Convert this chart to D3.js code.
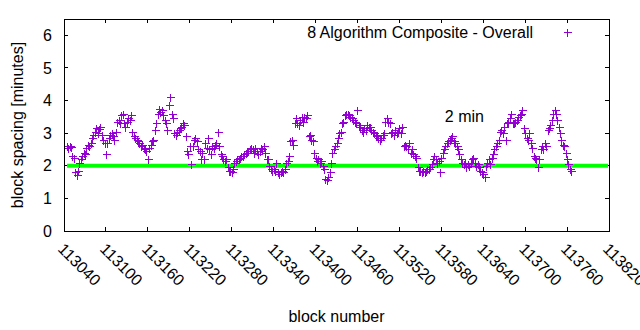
<!DOCTYPE html>
<html>
<head>
<meta charset="utf-8">
<script src="https://cdn.jsdelivr.net/npm/d3@7"></script>
<style>
  body { margin: 0; background: #fff; }
  svg { display: block; }
  text { font-family: "Liberation Sans", Arial, sans-serif; fill: #000; }
</style>
</head>
<body>
<svg id="chart" width="640" height="330"></svg>
<script>
// ---- data ----
const seriesName = "8 Algorithm Composite - Overall";
const refLabel = "2 min";
const refValue = 2;
const firstBlock = 113044;
const blockStep = 2;
const spacing = [
  2.6,2.55,2.62,2.58,2.3,2.25,1.8,1.72,1.85,2.1,
  2.2,2.3,2.4,2.35,2.55,2.65,2.6,2.7,2.85,2.95,
  3.05,3.15,3.0,3.12,3.2,2.95,2.8,2.7,2.35,2.7,
  2.85,2.95,3.0,2.9,2.8,3.05,3.35,3.4,3.3,3.55,
  3.6,3.3,3.2,3.35,3.45,3.4,3.55,3.05,2.9,2.85,
  2.8,2.75,2.7,2.6,2.65,2.55,2.5,2.45,2.2,2.55,
  2.65,2.75,2.8,3.1,3.3,3.6,3.75,3.65,3.7,3.55,
  3.4,3.3,3.1,3.85,4.1,3.6,3.45,3.0,2.95,3.05,
  3.1,3.15,3.2,3.3,3.25,2.9,2.45,2.35,2.6,2.05,
  2.6,2.8,2.85,2.75,2.5,2.45,2.2,2.4,2.2,2.7,
  2.55,2.85,2.5,2.35,2.6,2.55,2.65,2.7,3.05,2.6,
  2.35,2.3,2.2,2.15,2.2,1.95,1.85,1.85,1.8,1.9,
  2.1,2.15,2.2,2.2,2.25,2.3,2.3,2.35,2.4,2.45,
  2.45,2.5,2.55,2.5,2.4,2.55,2.45,2.35,2.45,2.55,
  2.5,2.6,2.4,2.2,2.2,2.0,1.9,1.85,1.9,1.85,
  2.1,1.8,1.75,1.8,1.85,1.8,1.9,2.1,2.15,2.3,
  2.75,2.8,2.65,3.3,3.45,3.3,3.25,3.4,3.5,3.35,
  3.5,3.45,3.55,2.9,2.95,2.8,2.75,2.4,2.25,2.15,
  2.2,2.1,2.15,2.0,1.9,1.6,1.55,1.65,1.8,2.1,
  2.4,2.5,2.6,2.7,2.85,3.0,3.05,3.3,3.35,3.55,
  3.6,3.6,3.55,3.5,3.45,3.4,3.35,3.3,3.7,3.25,
  3.2,3.1,3.05,3.15,3.1,3.25,3.2,3.2,3.1,3.05,
  3.0,2.9,2.95,2.85,2.8,2.85,2.95,3.0,3.35,3.45,
  3.35,3.3,3.0,3.05,2.95,3.1,3.0,3.05,3.15,3.0,
  3.2,2.6,2.65,2.6,2.5,2.7,2.4,2.5,2.35,2.3,
  2.25,1.95,1.85,1.85,1.8,1.85,1.8,1.85,1.9,1.9,
  1.95,2.05,2.2,2.3,2.2,2.1,2.15,1.8,2.25,2.4,
  2.5,2.6,2.7,2.75,2.8,2.85,2.9,2.75,2.7,2.6,
  2.5,2.35,2.2,2.1,2.05,2.1,1.95,2.05,2.0,2.1,
  2.2,2.25,2.1,2.0,2.05,1.95,1.85,1.8,1.75,1.65,
  2.0,2.1,2.2,2.05,2.25,2.35,2.5,2.6,2.7,2.8,
  3.05,3.1,3.0,3.2,2.8,3.3,3.35,3.45,3.6,3.3,
  3.3,3.35,3.4,3.5,3.55,3.6,3.7,3.15,3.0,2.85,
  2.8,3.0,2.7,2.55,2.3,2.25,2.2,1.95,2.2,2.5,
  2.6,2.5,2.7,2.6,3.1,3.15,3.25,3.4,3.6,3.7,
  3.6,3.4,3.2,3.0,2.8,2.65,2.6,2.4,2.2,2.05,1.9,1.85
];
const xTicks = [113040,113100,113160,113220,113280,113340,113400,113460,113520,113580,113640,113700,113760,113820];
const yTicks = [0,1,2,3,4,5,6];
const xDomain = [113040, 113820];
const yDomain = [0, 6.5];

const points = spacing.map((v, i) => ({ block: firstBlock + i * blockStep, value: v }));

// ---- layout ----
const L = 64, R = 609, T = 19, B = 231;
const purple = "#9400d3";
const svg = d3.select("#chart");
const x = d3.scaleLinear().domain(xDomain).range([L, R]);
const y = d3.scaleLinear().domain(yDomain).range([B, T]);
const tickLen = 4;
const fs = 16;

// ticks (inward, mirrored)
const tg = svg.append("g").attr("stroke", "#000").attr("stroke-width", 1).attr("shape-rendering", "crispEdges");
yTicks.forEach(t => {
  tg.append("line").attr("x1", L).attr("x2", L + tickLen).attr("y1", y(t)).attr("y2", y(t));
  tg.append("line").attr("x1", R).attr("x2", R - tickLen).attr("y1", y(t)).attr("y2", y(t));
});
xTicks.forEach(t => {
  tg.append("line").attr("x1", x(t)).attr("x2", x(t)).attr("y1", B).attr("y2", B - tickLen);
  tg.append("line").attr("x1", x(t)).attr("x2", x(t)).attr("y1", T).attr("y2", T + tickLen);
});

// y tick labels
svg.append("g").selectAll("text").data(yTicks).join("text")
  .attr("x", L - 12).attr("y", d => y(d)).attr("dy", "0.35em")
  .attr("text-anchor", "end").attr("font-size", fs).text(d => d);

// x tick labels rotated
svg.append("g").selectAll("text").data(xTicks).join("text")
  .attr("transform", d => `translate(${x(d) - 3},${B + 15}) rotate(45)`)
  .attr("dy", "0.35em")
  .attr("text-anchor", "start").attr("font-size", fs).text(d => d);

// reference line
svg.append("line")
  .attr("x1", x(xDomain[0]) + 3).attr("x2", x(xDomain[1]) - 1)
  .attr("y1", y(refValue)).attr("y2", y(refValue))
  .attr("stroke", "#00ff00").attr("stroke-width", 4);

svg.append("text").attr("x", x(113585)).attr("y", y(3.5)).attr("dy", "0.35em")
  .attr("font-size", fs).text(refLabel);

// points as '+'
const half = 4;
const pg = svg.append("g").attr("stroke", purple).attr("stroke-width", 1).attr("shape-rendering", "crispEdges");
pg.selectAll("path").data(points).join("path")
  .attr("d", d => {
    const cx = Math.round(x(d.block)) + 0.5, cy = Math.round(y(d.value)) + 0.5;
    return `M${cx - half},${cy}H${cx + half}M${cx},${cy - half}V${cy + half}`;
  });

// frame
svg.append("rect").attr("x", L).attr("y", T).attr("width", R - L).attr("height", B - T)
  .attr("fill", "none").attr("stroke", "#000").attr("stroke-width", 1).attr("shape-rendering", "crispEdges");

// key
svg.append("text").attr("x", 533).attr("y", 32).attr("dy", "0.35em")
  .attr("text-anchor", "end").attr("font-size", fs).text(seriesName);
svg.append("path").attr("stroke", purple).attr("stroke-width", 1).attr("shape-rendering", "crispEdges")
  .attr("d", `M${567.5 - half},32.5H${567.5 + half}M567.5,${32.5 - half}V${32.5 + half}`);

// axis titles
svg.append("text").attr("x", (L + R) / 2).attr("y", 316).attr("dy", "0.35em")
  .attr("text-anchor", "middle").attr("font-size", fs).text("block number");
svg.append("text").attr("transform", `translate(17,${(T + B) / 2}) rotate(-90)`)
  .attr("dy", "0.35em").attr("text-anchor", "middle").attr("font-size", fs)
  .text("block spacing [minutes]");
</script>
</body>
</html>
